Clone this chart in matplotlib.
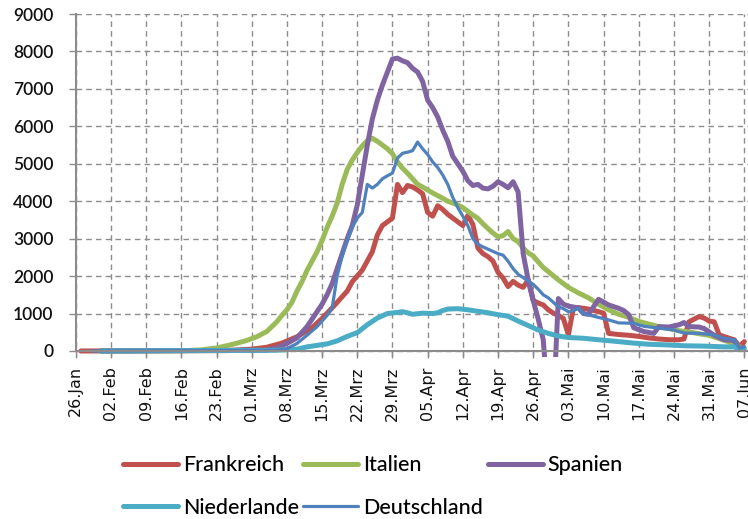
import matplotlib
matplotlib.use("Agg")
import matplotlib.pyplot as plt

# x axis: days since 26 Jan 2020, one label per week
tick_labels = ["26.Jan", "02.Feb", "09.Feb", "16.Feb", "23.Feb", "01.Mrz", "08.Mrz",
               "15.Mrz", "22.Mrz", "29.Mrz", "05.Apr", "12.Apr", "19.Apr", "26.Apr",
               "03.Mai", "10.Mai", "17.Mai", "24.Mai", "31.Mai", "07.Jun"]

series_names = ["Frankreich", "Italien", "Spanien", "Niederlande", "Deutschland"]

# (day, value) pairs
frankreich = [(1, 0), (30, 10), (35, 50), (38, 100), (41, 210), (44, 380), (47, 620), (49, 870),
              (51, 1150), (53, 1450), (54, 1600), (55, 1850), (57, 2160), (59, 2650), (60, 3100),
              (61, 3350), (62, 3450), (63, 3550), (64, 4450), (65, 4230), (66, 4420), (67, 4380),
              (68, 4300), (69, 4200), (70, 3700), (71, 3600), (72, 3880), (73, 3780), (74, 3650),
              (75, 3550), (76, 3450), (77, 3350), (78, 3620), (79, 3380), (80, 2750), (81, 2600),
              (82, 2520), (83, 2400), (84, 2100), (85, 1950), (86, 1720), (87, 1860), (88, 1760),
              (89, 1700), (90, 1900), (91, 1350), (92, 1280), (93, 1230), (94, 1100), (95, 1010),
              (96, 950), (97, 870), (98, 430), (99, 1150), (100, 1160), (102, 1120), (104, 1050),
              (105, 1010), (106, 470), (108, 440), (110, 420), (112, 390), (114, 350), (116, 320),
              (118, 300), (120, 300), (121, 320), (122, 780), (124, 920), (125, 880), (126, 800),
              (127, 780), (128, 430), (130, 340), (131, 300), (132, 120), (133, 250)]

italien = [(5, 0), (22, 10), (25, 30), (28, 80), (31, 170), (34, 280), (36, 380), (38, 520),
           (40, 780), (41, 950), (42, 1100), (43, 1300), (44, 1600), (45, 1850), (46, 2150),
           (47, 2400), (48, 2650), (49, 2950), (50, 3300), (51, 3600), (52, 3950), (53, 4450),
           (54, 4850), (55, 5100), (56, 5300), (57, 5480), (58, 5620), (59, 5680), (60, 5600),
           (61, 5500), (62, 5400), (63, 5270), (64, 5050), (65, 4880), (66, 4750), (67, 4600),
           (68, 4450), (69, 4380), (70, 4300), (71, 4220), (72, 4150), (73, 4080), (74, 4000),
           (75, 3950), (76, 3900), (77, 3830), (78, 3730), (79, 3630), (80, 3540), (81, 3400),
           (82, 3270), (83, 3150), (84, 3050), (85, 3080), (86, 3190), (87, 3000), (88, 2920),
           (89, 2750), (90, 2620), (91, 2540), (92, 2380), (93, 2230), (94, 2120), (96, 1900),
           (98, 1700), (100, 1550), (102, 1420), (104, 1250), (106, 1100), (108, 980),
           (110, 900), (112, 790), (114, 720), (116, 650), (118, 600), (120, 540), (122, 510),
           (124, 460), (126, 420), (128, 330), (130, 240), (132, 120)]

spanien = [(5, 0), (38, 20), (40, 80), (42, 200), (44, 350), (46, 650), (47, 850), (48, 1050),
           (49, 1250), (50, 1500), (51, 1800), (52, 2200), (53, 2600), (54, 3000), (55, 3350),
           (56, 3900), (57, 4700), (58, 5500), (59, 6200), (60, 6700), (61, 7100), (62, 7450),
           (63, 7800), (64, 7820), (65, 7750), (66, 7700), (67, 7550), (68, 7450), (69, 7200),
           (70, 6700), (71, 6500), (72, 6250), (73, 5900), (74, 5600), (75, 5200), (76, 5000),
           (77, 4800), (78, 4550), (79, 4420), (80, 4450), (81, 4350), (82, 4330), (83, 4400),
           (84, 4520), (85, 4450), (86, 4360), (87, 4520), (88, 4250), (89, 2600), (90, 1900),
           (91, 1350), (92, 850), (93, 300), (94, -1500), (95, -1500), (96, 1400), (97, 1250),
           (98, 1200), (100, 1150), (101, 1000), (102, 980), (104, 1380), (106, 1230),
           (108, 1140), (109, 1080), (110, 970), (111, 620), (113, 520), (115, 470), (116, 650),
           (118, 640), (120, 700), (121, 760), (122, 650), (124, 640), (125, 600), (127, 420),
           (129, 300), (131, 280), (132, 60)]

niederlande = [(5, 0), (40, 20), (44, 50), (46, 110), (48, 150), (50, 190), (52, 270), (54, 390),
               (56, 490), (58, 700), (60, 880), (62, 1000), (64, 1030), (65, 1050), (66, 1020),
               (67, 980), (69, 1010), (71, 1000), (72, 1020), (73, 1080), (74, 1120), (76, 1130),
               (78, 1100), (80, 1060), (82, 1020), (84, 970), (86, 930), (88, 800), (90, 680),
               (92, 560), (94, 470), (96, 400), (98, 360), (101, 340), (104, 300), (108, 250),
               (111, 210), (114, 180), (118, 160), (121, 140), (125, 130), (129, 110), (131, 110),
               (132, 40), (133, 70)]

deutschland = [(3, 0), (40, 20), (42, 60), (44, 200), (46, 420), (48, 650), (50, 950), (51, 1150),
               (52, 2000), (53, 2550), (54, 2950), (55, 3300), (56, 3550), (57, 3700), (58, 4450),
               (59, 4350), (60, 4450), (61, 4600), (62, 4680), (63, 4750), (64, 5150), (65, 5280),
               (66, 5310), (67, 5350), (68, 5580), (69, 5400), (70, 5250), (71, 5050), (72, 4900),
               (73, 4700), (74, 4450), (75, 4100), (76, 3830), (77, 3600), (78, 3350), (79, 3000),
               (80, 2850), (81, 2780), (82, 2720), (83, 2660), (84, 2600), (85, 2560), (86, 2400),
               (87, 2200), (88, 2050), (89, 1960), (90, 1870), (91, 1780), (92, 1650), (93, 1500),
               (94, 1420), (95, 1300), (96, 1180), (97, 1130), (98, 1050), (99, 1080), (100, 1140),
               (101, 1000), (103, 930), (106, 830), (108, 750), (111, 740), (113, 660), (116, 610),
               (119, 560), (121, 480), (124, 470), (127, 430), (129, 340), (131, 300), (132, 70),
               (133, 120)]

y_ticks = [0, 1000, 2000, 3000, 4000, 5000, 6000, 7000, 8000, 9000]

colors = ["#C0504D", "#9BBB59", "#8064A2", "#4BACC6", "#4F81BD"]
widths = [3.6, 3.6, 3.6, 3.6, 2.3]

fig = plt.figure(figsize=(7.48, 5.19), dpi=100)
ax = fig.add_axes([0.1013, 0.3129, 0.9005, 0.6601])

grid_c = "#8c8c8c"
ax.set_xlim(0, 134)
ax.set_ylim(-150, 9000)

for s in ["top", "right"]:
    ax.spines[s].set_visible(False)
ax.spines["bottom"].set_position(("data", 0))
ax.spines["left"].set_bounds(0, 9000)
for s in ["bottom", "left"]:
    ax.spines[s].set_color(grid_c)
    ax.spines[s].set_linewidth(1.5)

ax.set_yticks(y_ticks)
ax.set_yticklabels([str(v) for v in y_ticks])
ax.set_xticks([7 * i for i in range(len(tick_labels))])
ax.set_xticklabels(tick_labels)

ax.grid(True, color=grid_c, linestyle=(0, (4, 3)), linewidth=1.0)
ax.set_axisbelow(True)

ax.tick_params(axis="y", length=5, width=1, color=grid_c, pad=11,
               labelsize=12.5, labelcolor="#111111", labelfontfamily="Lato")
ax.tick_params(axis="x", length=5, width=1, color=grid_c, pad=6,
               labelsize=11.5, labelcolor="#111111", labelrotation=90,
               labelfontfamily="DejaVu Sans")
for t in ax.get_yticklabels():
    t.set_fontweight("semibold")

handles = []
for name, data, c, w in zip(series_names,
                            [frankreich, italien, spanien, niederlande, deutschland],
                            colors, widths):
    xs = [d for d, v in data]
    ys = [v for d, v in data]
    (ln,) = ax.plot(xs, ys, color=c, linewidth=w, label=name,
                    solid_joinstyle="round", solid_capstyle="round")
    handles.append(ln)

order = [0, 3, 1, 4, 2]
leg = fig.legend([handles[i] for i in order], [series_names[i] for i in order],
                 ncol=3, loc="upper left", bbox_to_anchor=(0.1644, 0.1227),
                 frameon=False, handlelength=2.56, handletextpad=0.23,
                 columnspacing=0.2, labelspacing=1.05, borderpad=0, borderaxespad=0,
                 prop={"family": ["Lato", "DejaVu Sans"], "size": 15.5, "weight": "medium"})

fig.savefig("out.png", dpi=100)
